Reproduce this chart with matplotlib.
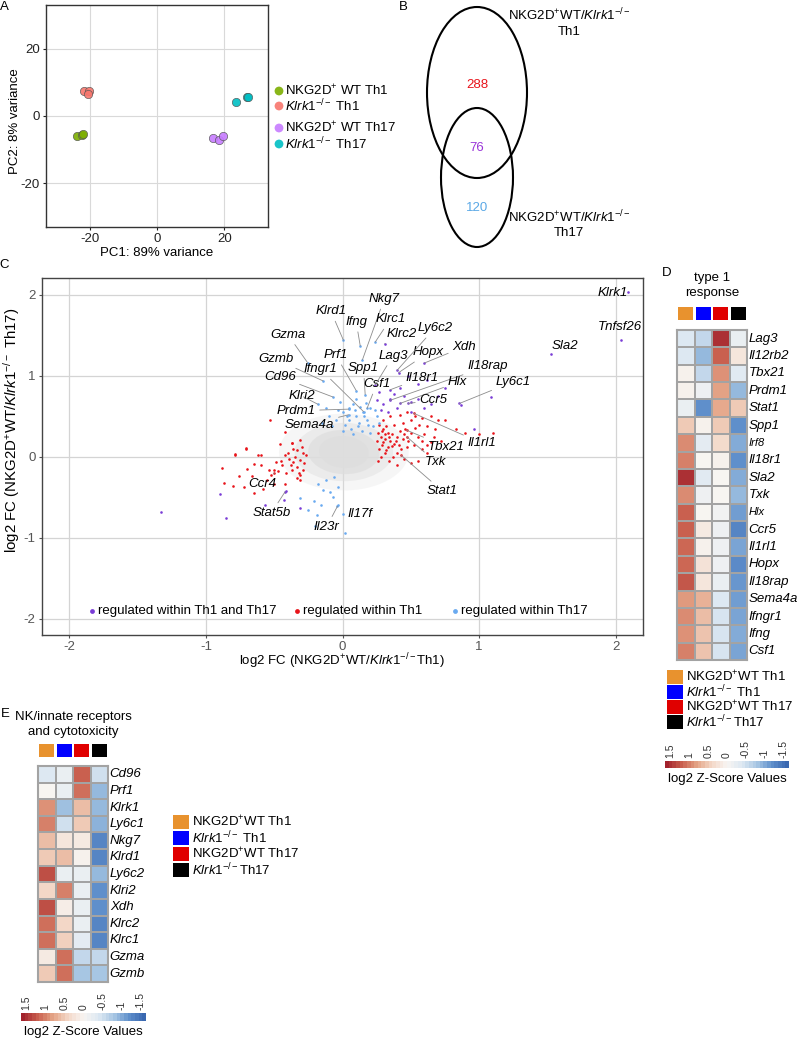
import numpy as np
import matplotlib
matplotlib.use('Agg')
import matplotlib.pyplot as plt
from matplotlib.patches import Ellipse, Rectangle
from matplotlib.colors import LinearSegmentedColormap, Normalize
from matplotlib.cm import ScalarMappable

plt.rcParams['font.family'] = ['Liberation Sans', 'DejaVu Sans']
plt.rcParams['mathtext.fontset'] = 'custom'
plt.rcParams['mathtext.rm'] = 'Liberation Sans'
plt.rcParams['mathtext.it'] = 'Liberation Sans:italic'
plt.rcParams['mathtext.bf'] = 'Liberation Sans:bold'
plt.rcParams['font.size'] = 9.5

# ---------------- DATA ----------------
group_labels = ['NKG2D$^{+}$ WT Th1', '$\\mathit{Klrk1}^{-/-}$ Th1',
                'NKG2D$^{+}$ WT Th17', '$\\mathit{Klrk1}^{-/-}$ Th17']
group_labels_nosp = ['NKG2D$^{+}$WT Th1', '$\\mathit{Klrk1}^{-/-}$ Th1',
                     'NKG2D$^{+}$WT Th17', '$\\mathit{Klrk1}^{-/-}$Th17']
# PCA
pc1_wt_th1 = [-23.9, -22.4, -22.0]
pc2_wt_th1 = [-5.9, -5.6, -5.3]
pc1_ko_th1 = [-21.7, -20.2, -20.5]
pc2_ko_th1 = [7.5, 7.5, 6.5]
pc1_wt_th17 = [16.5, 18.4, 19.5]
pc2_wt_th17 = [-6.6, -7.2, -6.0]
pc1_ko_th17 = [23.6, 26.8, 27.1]
pc2_ko_th17 = [4.2, 5.7, 5.6]

# Venn counts
venn_th1_only = 288
venn_both = 76
venn_th17_only = 120

# Scatter (log2 FC Th1, log2 FC Th17)
red_x = [-0.53, -0.71, -0.79, -0.60, -0.46, -0.37, -0.40, -0.36, -0.31, -0.33, -0.29, -0.37, -0.41,
         -0.49, -0.50, -0.47, -0.54, -0.65, -0.60, -0.88, -0.76, -0.72, -0.87, -0.80, -0.65, -0.50,
         -0.42, -0.33, -0.31, -0.29, -0.33, -0.42, -0.44, -0.38, -0.31, -0.66, -0.55, -0.42, -0.37,
         -0.31, -0.785, -0.71, -0.30, -0.35, -0.28, -0.39, -0.45, -0.52, -0.58, -0.70, -0.62, -0.27,
         -0.32, -0.36,
         0.27, 0.30, 0.33, 0.28, 0.31, 0.35, 0.29, 0.33, 0.38, 0.26, 0.36, 0.40, 0.42, 0.45, 0.48,
         0.50, 0.52, 0.55, 0.58, 0.60, 0.62, 0.65, 0.40, 0.43, 0.37, 0.31, 0.34, 0.40, 0.45, 0.50,
         0.55, 0.30, 0.25, 0.27, 0.32, 0.38, 0.44, 0.50, 0.56, 0.62, 0.68, 0.70, 0.35, 0.42, 0.47,
         0.53, 0.58, 0.65, 0.75, 0.83, 0.90, 1.00, 1.10, 0.28, 0.26, 0.29, 0.31, 0.34, 0.30, 0.32,
         0.36, 0.39, 0.41, 0.44, 0.47, 0.46, 0.53, 0.58, 0.62, 0.67, 0.72]
red_y = [0.45, 0.10, 0.03, 0.02, 0.16, 0.17, 0.05, -0.06, -0.04, -0.12, -0.16, -0.16, -0.20,
         -0.06, -0.16, -0.18, -0.16, -0.09, -0.10, -0.14, -0.23, -0.37, -0.32, -0.36, -0.45, -0.33,
         -0.33, -0.26, -0.28, 0.05, 0.09, 0.02, -0.10, -0.10, -0.22, -0.24, -0.28, 0.31, 0.17,
         0.21, 0.02, 0.11, 0.12, 0.00, -0.08, -0.03, -0.05, -0.22, -0.40, -0.15, 0.02, 0.02,
         -0.20, 0.10,
         0.40, 0.35, 0.30, 0.25, 0.22, 0.20, 0.15, 0.12, 0.16, 0.30, 0.28, 0.25, 0.32, 0.28, 0.20,
         0.30, 0.15, 0.25, 0.10, 0.28, 0.05, 0.18, 0.05, 0.10, 0.00, 0.05, -0.05, -0.10, -0.02, -0.08,
         -0.05, 0.45, 0.20, 0.10, 0.38, 0.40, 0.42, 0.45, 0.40, 0.38, 0.35, 0.45, 0.50, 0.52, 0.55,
         0.50, 0.48, 0.50, 0.45, 0.35, 0.30, 0.28, 0.30, 0.00, -0.05, 0.32, 0.28, 0.24, 0.18, 0.08,
         0.14, 0.20, 0.15, 0.22, 0.12, 0.35, 0.36, 0.20, 0.15, 0.25, 0.20]
blue_x = [0.0, 0.05, 0.10, 0.15, 0.20, 0.08, -0.05, 0.02, 0.12, 0.18, 0.22, 0.25, -0.10, -0.08,
          0.06, 0.14, 0.20, -0.02, 0.10, 0.17, -0.12, 0.03, 0.09, 0.13, 0.16, 0.24, 0.27, -0.15,
          0.0, 0.11, 0.05, -0.03, 0.19, 0.08,
          -0.12, -0.18, -0.03, -0.31, -0.21, -0.07, -0.03, -0.19, 0.02, -0.16, -0.25, -0.09,
          -0.14, -0.06, -0.20]
blue_y = [0.55, 0.60, 0.50, 0.55, 0.60, 0.65, 0.45, 0.40, 0.42, 0.45, 0.38, 0.50, 0.50, 0.38,
          0.35, 0.32, 0.30, 0.68, 0.72, 0.66, 0.60, 0.50, 0.58, 0.62, 0.50, 0.58, 0.42, 0.42,
          0.32, 0.38, 0.46, 0.58, 0.40, 0.28,
          -0.28, -0.34, -0.37, -0.51, -0.55, -0.49, -0.59, -0.72, -0.94, -0.59, -0.66, -0.43,
          -0.41, -0.25, -0.85]
purple_x = [-1.33, -0.90, -0.85, -0.57, -0.43, -0.41, -0.31, 0.96, 0.87, 1.09, 0.30, 0.35, 0.40,
            0.45, 0.50, 0.55, 0.60, 0.28, 0.33, 0.38, 0.50, 0.65, 0.70, 0.42, 0.55, 0.62, 0.75,
            0.48, 0.25, 0.27]
purple_y = [-0.68, -0.46, -0.76, -0.59, -0.53, -0.42, -0.63, 0.34, 0.64, 0.74, 0.65, 0.72, 0.60,
            0.75, 0.68, 0.72, 0.60, 0.58, 0.55, 0.78, 0.55, 0.65, 0.75, 0.85, 0.90, 0.95, 0.85,
            1.00, 0.70, 0.80]

# labelled genes: name, x, y, group
genes = ['Klrd1', 'Ifng', 'Nkg7', 'Klrc1', 'Gzma', 'Gzmb', 'Cd96', 'Klri2', 'Prf1', 'Spp1',
         'Csf1', 'Ifngr1', 'Prdm1', 'Sema4a', 'Il17f', 'Il23r',
         'Klrk1', 'Tnfsf26', 'Sla2', 'Ly6c1', 'Il18rap', 'Xdh', 'Hopx', 'Lag3', 'Ly6c2', 'Klrc2',
         'Il18r1', 'Hlx', 'Ccr5', 'Stat5b',
         'Tbx21', 'Il1rl1', 'Txk', 'Stat1', 'Ccr4']
gene_x = [0.007, 0.13, 0.146, 0.24, -0.256, -0.144, -0.07, -0.18, 0.10, 0.166, 0.18, 0.154,
          0.044, 0.044, 0.0, -0.037,
          2.09, 2.04, 1.53, 0.856, 0.35, 0.60, 0.41, 0.24, 0.40, 0.31, 0.35, 0.42, 0.48, -0.42,
          0.47, 0.52, 0.47, 0.43, -0.50]
gene_y = [1.44, 1.37, 1.20, 1.42, 1.165, 0.94, 0.74, 0.65, 0.82, 0.77, 0.60, 0.56, 0.59, 0.52,
          -0.71, -0.61,
          2.04, 1.44, 1.27, 0.66, 0.70, 1.16, 1.04, 0.89, 1.07, 1.40, 0.83, 0.66, 0.66, -0.43,
          0.33, 0.54, 0.25, 0.02, -0.20]
gene_group = ['blue'] * 16 + ['purple'] * 14 + ['red'] * 5

# heatmap D
d_genes = ['Lag3', 'Il12rb2', 'Tbx21', 'Prdm1', 'Stat1', 'Spp1', 'Irf8', 'Il18r1', 'Sla2', 'Txk',
           'Hlx', 'Ccr5', 'Il1rl1', 'Hopx', 'Il18rap', 'Sema4a', 'Ifngr1', 'Ifng', 'Csf1']
d_wt_th1 = [-0.40, -0.40, 0.05, 0.05, -0.20, 0.50, 0.95, 1.00, 1.50, 0.95, 1.20, 1.20, 1.15, 1.15,
            1.25, 0.85, 0.95, 0.90, 1.00]
d_ko_th1 = [-0.60, -0.90, -0.60, -0.15, -1.20, 0.05, -0.30, 0.00, -0.35, -0.15, 0.00, 0.15, 0.05,
            0.25, 0.20, 0.70, 0.60, 0.55, 0.55]
d_wt_th17 = [1.50, 1.20, 0.90, 0.80, 0.75, 0.50, 0.35, 0.05, 0.00, 0.00, -0.10, -0.15, -0.15, -0.15,
             -0.20, -0.40, -0.45, -0.45, -0.45]
d_ko_th17 = [-0.20, 0.20, -0.35, -0.90, 0.50, -1.20, -1.00, -1.20, -1.00, -0.90, -1.10, -1.30,
             -1.05, -1.25, -1.15, -1.10, -1.05, -1.00, -1.05]

# heatmap E
e_genes = ['Cd96', 'Prf1', 'Klrk1', 'Ly6c1', 'Nkg7', 'Klrd1', 'Ly6c2', 'Klri2', 'Xdh', 'Klrc2',
           'Klrc1', 'Gzma', 'Gzmb']
e_wt_th1 = [-0.40, 0.00, 0.90, 1.00, 0.60, 0.50, 1.30, 0.40, 1.30, 1.10, 1.10, 0.15, 0.50]
e_ko_th1 = [-0.20, -0.20, -0.85, -0.50, 0.20, 0.60, -0.20, 1.00, 0.10, 0.40, 0.45, 1.10, 1.10]
e_wt_th17 = [1.20, 1.10, 0.60, 0.50, 0.15, 0.05, -0.20, -0.20, -0.20, -0.20, -0.30, -0.60, -0.80]
e_ko_th17 = [-0.50, -0.90, -0.90, -0.95, -1.30, -1.30, -0.90, -1.20, -1.20, -1.30, -1.30, -0.60, -0.80]

cbar_ticks = [1.5, 1, 0.5, 0, -0.5, -1, -1.5]
cbar_ticklabels = ['1.5', '1', '0.5', '0', '-0.5', '-1', '-1.5']

# ---------------- FIGURE ----------------
W, H = 799, 1039
fig = plt.figure(figsize=(W / 100, H / 100), dpi=100)


def px_axes(x0, y0, x1, y1, **kw):
    return fig.add_axes([x0 / W, 1 - y1 / H, (x1 - x0) / W, (y1 - y0) / H], **kw)


ov = px_axes(0, 0, W, H, zorder=10)
ov.set_xlim(0, W)
ov.set_ylim(H, 0)
ov.axis('off')
ov.patch.set_alpha(0)

FS = 9.5
for letter, (lx, ly) in zip('ABCDE', [(4, 7), (403, 7), (4, 265), (667, 273), (5, 714)]):
    ov.text(lx, ly, letter, fontsize=FS, ha='center', va='center')

# ---------- Panel A ----------
ggcols = ['#7CAE00', '#F8766D', '#C77CFF', '#00BFC4']
axA = px_axes(46, 5, 268, 227)
for xs, ys, c in zip([pc1_wt_th1, pc1_ko_th1, pc1_wt_th17, pc1_ko_th17],
                     [pc2_wt_th1, pc2_ko_th1, pc2_wt_th17, pc2_ko_th17], ggcols):
    axA.scatter(xs, ys, s=36, color=c, edgecolor='#555555', linewidth=0.5, alpha=0.9, zorder=3)
axA.set_xlim(-33, 33)
axA.set_ylim(-33, 33)
axA.set_xticks([-20, 0, 20])
axA.set_yticks([-20, 0, 20])
axA.set_xticklabels(['-20', '0', '20'])
axA.set_yticklabels(['-20', '0', '20'])
axA.grid(True, color='#d9d9d9', lw=0.8)
axA.set_axisbelow(True)
axA.tick_params(length=2.5, labelsize=FS, colors='#222222', pad=2)
for sp in axA.spines.values():
    sp.set_color('#333333')
    sp.set_linewidth(1.0)
ov.text(157, 253, 'PC1: 89% variance', fontsize=FS, ha='center', va='center')
ov.text(15, 121, 'PC2: 8% variance', fontsize=FS, ha='center', va='center', rotation=90)

for i, (lab, yy) in enumerate(zip(group_labels, [91, 106, 128, 144])):
    ov.scatter([279], [yy], s=40, color=ggcols[i], edgecolor='none', alpha=0.9)
    ov.text(285, yy, lab, fontsize=FS, va='center', ha='left')

# ---------- Panel B (Venn) ----------
ov.add_patch(Ellipse((477, 92.5), 100, 171, fill=False, lw=1.5, ec='black'))
ov.add_patch(Ellipse((477, 177.5), 72, 139, fill=False, lw=1.5, ec='black'))
ov.text(477, 85, str(venn_th1_only), color='#e8141b', fontsize=FS, ha='center', va='center')
ov.text(477, 148, str(venn_both), color='#9a35d8', fontsize=FS, ha='center', va='center')
ov.text(477, 208, str(venn_th17_only), color='#5aa8e6', fontsize=FS, ha='center', va='center')
ov.text(569, 15, 'NKG2D$^{+}$WT/$\\mathit{Klrk1}^{-/-}$', fontsize=FS, ha='center', va='center')
ov.text(569, 32, 'Th1', fontsize=FS, ha='center', va='center')
ov.text(569, 217, 'NKG2D$^{+}$WT/$\\mathit{Klrk1}^{-/-}$', fontsize=FS, ha='center', va='center')
ov.text(569, 233, 'Th17', fontsize=FS, ha='center', va='center')

# ---------- Panel C ----------
RED, BLUE, PURPLE = '#e8141a', '#6aaaf0', '#7a3dd6'
gcol = {'red': RED, 'blue': BLUE, 'purple': PURPLE}
axC = px_axes(42, 278, 643, 635)
axC.set_xlim(-2.2, 2.2)
axC.set_ylim(-2.2, 2.21)
axC.set_xticks([-2, -1, 0, 1, 2])
axC.set_yticks([-2, -1, 0, 1, 2])
axC.set_xticklabels(['-2', '-1', '0', '1', '2'])
axC.set_yticklabels(['-2', '-1', '0', '1', '2'])
axC.grid(True, color='#d4d4d4', lw=0.9)
axC.set_axisbelow(True)
axC.tick_params(length=2.5, labelsize=FS, colors='#555555', pad=2)
for sp in axC.spines.values():
    sp.set_color('#444444')
    sp.set_linewidth(1.0)
# grey background gene cloud
for (w, h, a) in [(0.95, 0.95, 0.25), (0.72, 0.72, 0.45), (0.52, 0.55, 0.7), (0.36, 0.40, 0.9)]:
    axC.add_patch(Ellipse((0.01, 0.06), w, h, angle=20, color='#dedede', alpha=a, lw=0, zorder=1))
axC.scatter(red_x, red_y, s=3.5, color=RED, lw=0, zorder=3)
axC.scatter(blue_x, blue_y, s=3.5, color=BLUE, lw=0, zorder=3)
axC.scatter(purple_x, purple_y, s=3.5, color=PURPLE, lw=0, zorder=3)
for gx, gy, gg in zip(gene_x, gene_y, gene_group):
    axC.scatter([gx], [gy], s=3.5, color=gcol[gg], lw=0, zorder=4)

label_pos = {
    'Klrd1': (-0.085, 1.80), 'Ifng': (0.10, 1.67), 'Nkg7': (0.305, 1.95), 'Klrc1': (0.35, 1.70),
    'Gzma': (-0.40, 1.51), 'Gzmb': (-0.49, 1.21), 'Cd96': (-0.46, 0.99), 'Klri2': (-0.295, 0.75),
    'Prf1': (-0.05, 1.26), 'Spp1': (0.154, 1.095), 'Csf1': (0.25, 0.90), 'Ifngr1': (-0.16, 1.08),
    'Prdm1': (-0.34, 0.57), 'Sema4a': (-0.24, 0.40), 'Il17f': (0.13, -0.71), 'Il23r': (-0.115, -0.86),
    'Klrk1': (1.975, 2.03), 'Tnfsf26': (2.03, 1.60), 'Sla2': (1.63, 1.37), 'Ly6c1': (1.25, 0.93),
    'Il18rap': (1.06, 1.12), 'Xdh': (0.89, 1.36), 'Hopx': (0.63, 1.29), 'Lag3': (0.37, 1.25),
    'Ly6c2': (0.675, 1.59), 'Klrc2': (0.43, 1.52), 'Il18r1': (0.585, 0.98), 'Hlx': (0.84, 0.92),
    'Ccr5': (0.665, 0.70), 'Stat5b': (-0.52, -0.69), 'Tbx21': (0.756, 0.128), 'Il1rl1': (1.02, 0.17),
    'Txk': (0.68, -0.06), 'Stat1': (0.73, -0.42), 'Ccr4': (-0.59, -0.33)}
no_line = {'Klrk1', 'Tnfsf26', 'Sla2', 'Il17f'}
for g, gx, gy in zip(genes, gene_x, gene_y):
    tx, ty = label_pos[g]
    if g in no_line:
        axC.text(tx, ty, g, fontsize=FS, style='italic', ha='center', va='center', zorder=5)
    else:
        axC.annotate(g, xy=(gx, gy), xytext=(tx, ty), fontsize=FS, style='italic',
                     ha='center', va='center', zorder=5,
                     arrowprops=dict(arrowstyle='-', color='#8c8c8c', lw=0.6,
                                     shrinkA=1, shrinkB=0))
ov.text(342, 661, 'log2 FC (NKG2D$^{+}$WT/$\\mathit{Klrk1}^{-/-}$Th1)', fontsize=FS,
        ha='center', va='center')
ov.text(12, 430, 'log2 FC (NKG2D$^{+}$WT/$\\mathit{Klrk1}^{-/-}$ Th17)', fontsize=10.8,
        ha='center', va='center', rotation=90)

for (mx, lab, c) in [(92, 'regulated within Th1 and Th17', PURPLE),
                     (297, 'regulated within Th1', RED),
                     (455, 'regulated within Th17', BLUE)]:
    ov.scatter([mx], [611], s=12, color=c, lw=0)
    ov.text(mx + 6, 611, lab, fontsize=FS, va='center', ha='left')

# ---------- Heatmaps ----------
cmap = LinearSegmentedColormap.from_list(
    'zs', ['#3a68b0', '#5f8fcb', '#a7c6e3', '#dde8f2', '#f7f5f2',
           '#f3d8c8', '#e4a486', '#c9604f', '#a2222c'], N=256)
norm = Normalize(-1.6, 1.6)
sq_cols = ['#e8922e', '#0000ff', '#e00000', '#000000']


def heatmap(x0, y0, x1, y1, cols, rows, title_lines, title_y, sq_y, label_small=()):
    ax = px_axes(x0, y0, x1, y1)
    data = np.array(cols).T
    ax.pcolormesh(data, cmap=cmap, norm=norm, edgecolors='#a3a3a3', linewidth=1.2)
    ax.set_xlim(0, 4)
    ax.set_ylim(len(rows), 0)
    ax.set_xticks([])
    ax.set_yticks([])
    for sp in ax.spines.values():
        sp.set_color('#a3a3a3')
        sp.set_linewidth(1.5)
    for i, g in enumerate(rows):
        ax.text(4.1, i + 0.5, g, style='italic', fontsize=8 if g in label_small else FS,
                ha='left', va='center', clip_on=False)
    cw = (x1 - x0) / 4
    for j, c in enumerate(sq_cols):
        cx = x0 + cw * (j + 0.5)
        ov.add_patch(Rectangle((cx - 7.5, sq_y - 6.5), 15, 13, color=c, lw=0))
    tx = (x0 + x1) / 2
    for k, t in enumerate(title_lines):
        ov.text(tx, title_y + 15 * k, t, fontsize=FS, ha='center', va='center')


heatmap(677, 330, 747, 660, [d_wt_th1, d_ko_th1, d_wt_th17, d_ko_th17], d_genes,
        ['type 1', 'response'], 278, 313, label_small=('Irf8', 'Hlx'))
heatmap(38, 766, 108, 982, [e_wt_th1, e_ko_th1, e_wt_th17, e_ko_th17], e_genes,
        ['NK/innate receptors', 'and cytotoxicity'], 717, 750)


def group_legend(x, ys):
    for lab, c, yy in zip(group_labels_nosp, sq_cols, ys):
        ov.add_patch(Rectangle((x, yy - 7), 16, 14, color=c, lw=0))
        ov.text(x + 19, yy, lab, fontsize=FS, ha='left', va='center')


group_legend(667, [677, 692, 707, 722])
group_legend(173, [822, 838, 854, 870])


def zbar(x0, y0, x1, y1, title_y):
    cax = px_axes(x0, y0, x1, y1)
    sm = ScalarMappable(norm=Normalize(-1.65, 1.65), cmap=cmap.resampled(34))
    cb = fig.colorbar(sm, cax=cax, orientation='horizontal')
    cb.outline.set_visible(False)
    cax.set_xlim(1.65, -1.65)
    cax.xaxis.set_ticks_position('top')
    cax.set_xticks(cbar_ticks)
    cax.set_xticklabels(cbar_ticklabels, rotation=90, fontsize=7.5)
    cax.tick_params(length=0, pad=2, colors='#333333')
    ov.text((x0 + x1) / 2, title_y, 'log2 Z-Score Values', fontsize=FS, ha='center', va='center')


zbar(665, 761, 789, 768, 779)
zbar(21, 1013, 146, 1021, 1032)

fig.savefig('out.png', dpi=100)
